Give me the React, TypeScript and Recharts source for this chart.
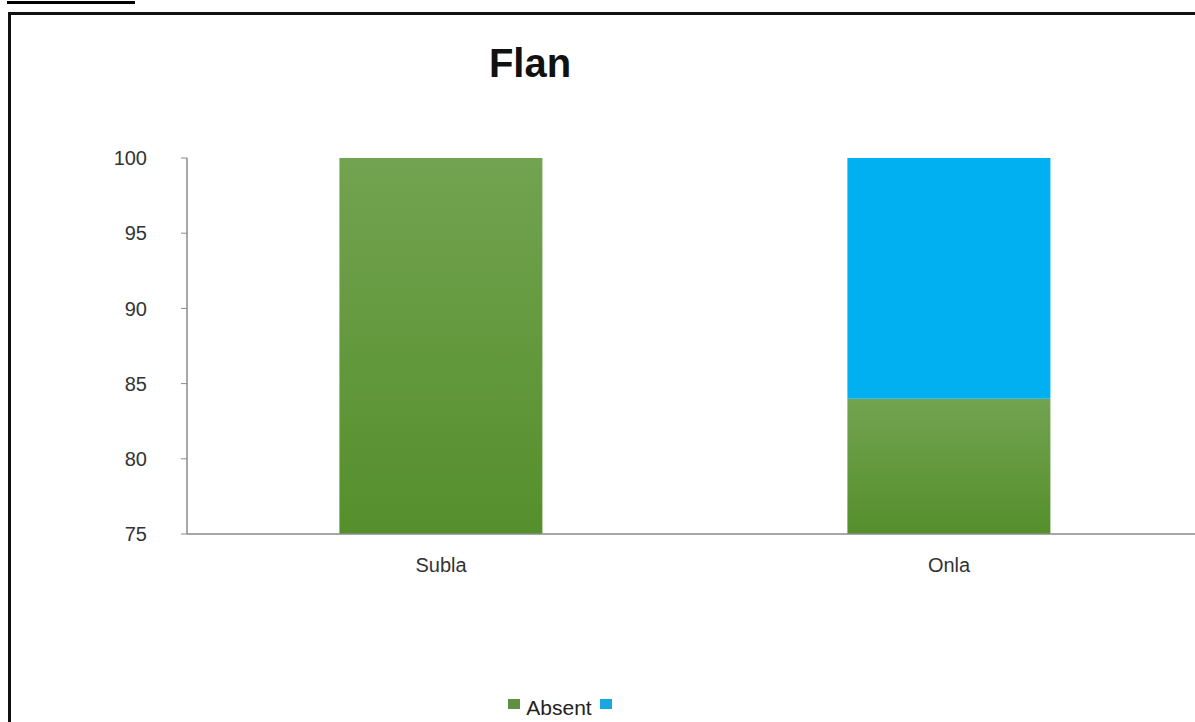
import { BarChart, Bar, XAxis, YAxis, Legend } from "recharts";

const categories = ["Subla", "Onla"];
const absentValues = [100, 84];
const presentValues = [0, 16];
const yTicks = [75, 80, 85, 90, 95, 100];

const data = categories.map((name, i) => ({
  name,
  absent: absentValues[i],
  present: presentValues[i],
}));

const LegendContent = () => (
  <div style={{ display: "flex", alignItems: "center", justifyContent: "center", fontFamily: "'Liberation Sans', Arial, sans-serif", fontSize: 21, color: "#222" }}>
    <span style={{ width: 12, height: 10, background: "#5F8F3F", display: "inline-block", marginRight: 6, marginTop: -8 }} />
    <span>Absent</span>
    <span style={{ width: 12, height: 10, background: "#1AA7E0", display: "inline-block", marginLeft: 8, marginTop: -8 }} />
  </div>
);

export default function App() {
  return (
    <div style={{ position: "absolute", left: 0, top: 0, width: 1195, height: 722, overflow: "hidden", background: "#fff" }}>
      {/* bit of the document above the chart */}
      <div style={{ position: "absolute", left: 7, top: 1, width: 128, height: 3, background: "#000" }} />
      <div style={{ position: "absolute", left: 8, top: 12, width: 1220, height: 740, border: "3px solid #111", boxSizing: "border-box" }} />
      <div style={{ position: "absolute", left: 0, top: 0 }}>
        <BarChart
          width={1230}
          height={722}
          data={data}
          barCategoryGap="30%"
          margin={{ top: 158, right: 27, bottom: 134, left: 127 }}
        >
          <defs>
            <linearGradient id="greenGrad" x1="0" y1="0" x2="0" y2="1">
              <stop offset="0%" stopColor="#72A350" />
              <stop offset="100%" stopColor="#558F2C" />
            </linearGradient>
          </defs>
          <text x={530} y={77} textAnchor="middle" style={{ fontFamily: "'Liberation Sans', Arial, sans-serif", fontSize: 40, fontWeight: 700, fill: "#111" }}>
            Flan
          </text>
          <XAxis
            dataKey="name"
            height={30}
            tickLine={false}
            axisLine={{ stroke: "#8a8a8a", strokeWidth: 1.5 }}
            tickMargin={18}
            tick={{ fontSize: 20, fill: "#333", fontFamily: "'Liberation Sans', Arial, sans-serif" }}
          />
          <YAxis
            width={60}
            domain={[75, 100]}
            ticks={yTicks}
            allowDataOverflow
            tickSize={6}
            tickMargin={34}
            axisLine={{ stroke: "#8a8a8a", strokeWidth: 1.5 }}
            tickLine={{ stroke: "#8a8a8a" }}
            tick={{ fontSize: 20, fill: "#333", fontFamily: "'Liberation Sans', Arial, sans-serif" }}
          />
          <Legend
            content={<LegendContent />}
            wrapperStyle={{ position: "absolute", left: 370, top: 696, width: 380 }}
          />
          <Bar dataKey="absent" stackId="a" fill="url(#greenGrad)" isAnimationActive={false} />
          <Bar dataKey="present" stackId="a" fill="#00B0F0" isAnimationActive={false} />
        </BarChart>
      </div>
    </div>
  );
}
